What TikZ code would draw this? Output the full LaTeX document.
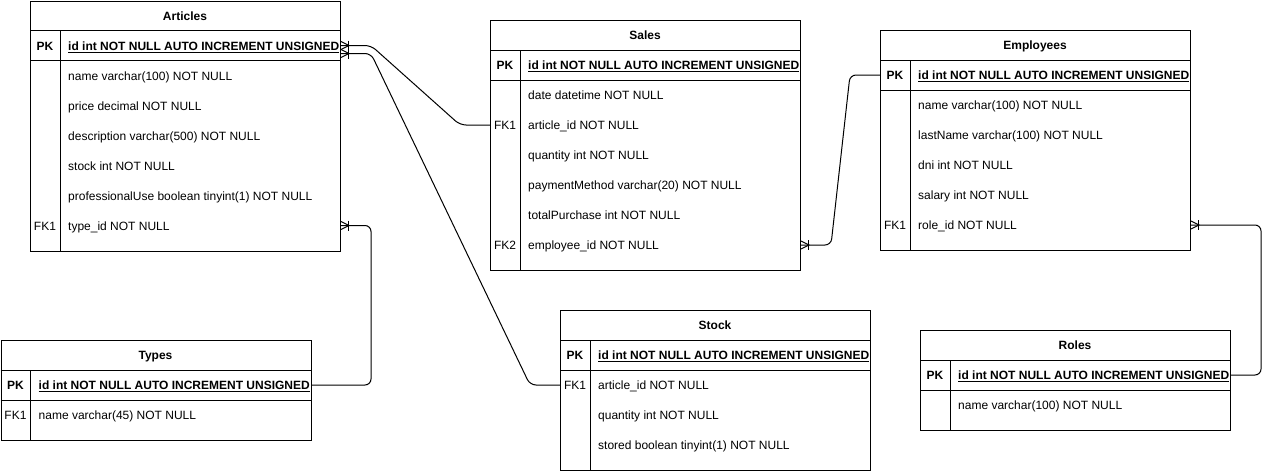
\documentclass[tikz,border=0pt]{standalone}
\usepackage{fontspec}
\setmainfont{Liberation Sans}
\usetikzlibrary{calc}
\tikzset{
  x=1pt, y=-1pt,
  tbl/.style={draw, line width=1pt, minimum width=310pt, inner sep=0pt, anchor=north west},
  ttl/.style={font=\fontsize{12}{14}\selectfont\bfseries, inner sep=0pt, text height=11pt, text depth=1.5pt},
  keyc/.style={font=\fontsize{12}{14}\selectfont, inner sep=0pt, text height=11pt, text depth=1.5pt},
  fld/.style={font=\fontsize{12}{14}\selectfont, anchor=west, inner sep=0pt, text height=11pt, text depth=1.5pt},
  sepline/.style={line width=1pt},
  conn/.style={line width=1pt, rounded corners=6pt},
  mk/.style={line width=1pt},
}
\newcommand\ertable[6]{%
  \pgfmathsetmacro\tabh{60+30*#5+10}
  \node[tbl, minimum height=\tabh pt] (#1) at (#2,#3) {};
  \node[ttl] (#1-t) at (#2+155,#3+15) {#4};
  \draw[sepline] (#2,#3+30) -- ++(310,0);
  \draw[sepline] (#2,#3+60) -- ++(310,0);
  \draw[sepline] (#2+30,#3+30) -- (#2+30,#3+\tabh);
  \node[keyc] (#1-pk) at (#2+15,#3+45) {\bfseries PK};
  \node[fld] (#1-id) at (#2+38,#3+45) {\bfseries\underline{id int NOT NULL AUTO INCREMENT UNSIGNED}};
  \foreach \k/\f [count=\i] in {#6} {
    \node[keyc] (#1-k\i) at (#2+15,#3+45+30*\i) {\k};
    \node[fld] (#1-r\i) at (#2+38,#3+45+30*\i) {\f};
  }
}
\newcommand\crowfoot[1]{%
  \draw[mk] ([yshift=4pt]#1) -- ([xshift=8pt]#1) -- ([yshift=-4pt]#1);
  \draw[mk] ([xshift=7pt,yshift=5pt]#1) -- ([xshift=7pt,yshift=-5pt]#1);
}
\begin{document}
\begin{tikzpicture}
\useasboundingbox (0,0) rectangle (1269,471);
\ertable{art}{30}{0.5}{Articles}{6}{/name varchar(100) NOT NULL,/price decimal NOT NULL,/description varchar(500) NOT NULL,/stock int NOT NULL,/professionalUse boolean tinyint(1) NOT NULL,FK1/type\_id NOT NULL}
\ertable{sal}{490}{20}{Sales}{6}{/date datetime NOT NULL,FK1/article\_id NOT NULL,/quantity int NOT NULL,/paymentMethod varchar(20) NOT NULL,/totalPurchase int NOT NULL,FK2/employee\_id NOT NULL}
\ertable{emp}{880}{30}{Employees}{5}{/name varchar(100) NOT NULL,/lastName varchar(100) NOT NULL,/dni int NOT NULL,/salary int NOT NULL,FK1/role\_id NOT NULL}
\ertable{stk}{560}{310}{Stock}{3}{FK1/article\_id NOT NULL,/quantity int NOT NULL,/stored boolean tinyint(1) NOT NULL}
\ertable{typ}{0.5}{340}{Types}{1}{FK1/name varchar(45) NOT NULL}
\ertable{rol}{920}{330}{Roles}{1}{/name varchar(100) NOT NULL}

% connector end points
\coordinate (a1) at (art.east |- art-id);
\coordinate (a2) at ([yshift=-8pt]a1);
\coordinate (a3) at (art.east |- art-r6);
\coordinate (s1) at (sal.west |- sal-k2);
\coordinate (s2) at (sal.east |- sal-r6);
\coordinate (k1) at (stk.west |- stk-k1);
\coordinate (t1) at (typ.east |- typ-id);
\coordinate (e1) at (emp.west |- emp-pk);
\coordinate (e2) at (emp.east |- emp-r5);
\coordinate (r1) at (rol.east |- rol-id);

\draw[conn] (a1) -- ++(30,0) -- ($(s1)+(-30,0)$) -- (s1);
\draw[conn] (a2) -- ++(30,0) -- ($(k1)+(-30,0)$) -- (k1);
\draw[conn] (a3) -- ++(30,0) |- (t1);
\draw[conn] (s2) -- ++(30,0) -- ($(e1)+(-30,0)$) -- (e1);
\draw[conn] (e2) -- ++(70,0) |- (r1);

\crowfoot{a1}
\crowfoot{a2}
\crowfoot{a3}
\crowfoot{s2}
\crowfoot{e2}
\end{tikzpicture}
\end{document}
